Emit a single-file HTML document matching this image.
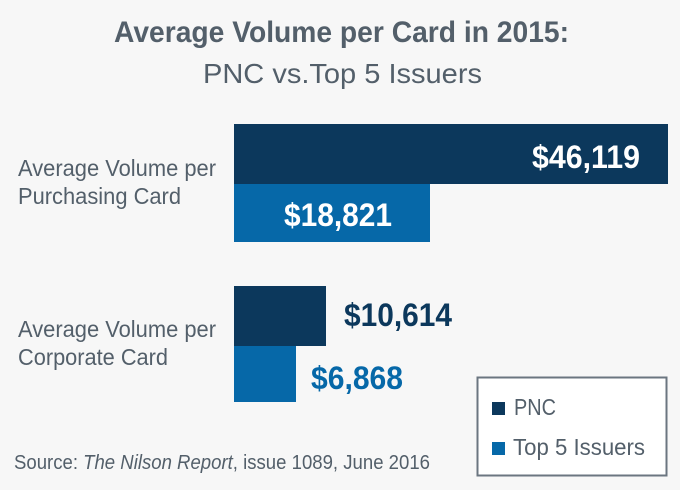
<!DOCTYPE html>
<html><head><meta charset="utf-8"><style>
html,body{margin:0;padding:0;background:#f7f7f7;}
svg{display:block;font-family:"Liberation Sans Narrow","Liberation Sans",sans-serif;}
</style></head><body>
<svg width="680" height="490" viewBox="0 0 680 490">
<rect width="680" height="490" fill="#f7f7f7"/>
<text x="114" y="42" font-size="30" font-weight="bold" fill="#535f6a" textLength="455" lengthAdjust="spacingAndGlyphs">Average Volume per Card in 2015:</text>
<text x="203" y="83" font-size="28" fill="#535f6a" textLength="279" lengthAdjust="spacingAndGlyphs">PNC vs.Top 5 Issuers</text>

<rect x="234" y="124" width="434" height="60" fill="#0c385c"/>
<rect x="234" y="184" width="196" height="58" fill="#0668a8"/>
<rect x="234" y="286" width="92" height="60" fill="#0c385c"/>
<rect x="234" y="346" width="62" height="56" fill="#0668a8"/>

<text x="532" y="168" font-size="32" font-weight="bold" fill="#fff" textLength="108" lengthAdjust="spacingAndGlyphs">$46,119</text>
<text x="284" y="226" font-size="32" font-weight="bold" fill="#fff" textLength="108" lengthAdjust="spacingAndGlyphs">$18,821</text>
<text x="344" y="326" font-size="32" font-weight="bold" fill="#0c385c" textLength="108" lengthAdjust="spacingAndGlyphs">$10,614</text>
<text x="311" y="389" font-size="32" font-weight="bold" fill="#0668a8" textLength="92" lengthAdjust="spacingAndGlyphs">$6,868</text>

<g font-size="23" fill="#535f6a">
<text x="18" y="176" textLength="198" lengthAdjust="spacingAndGlyphs">Average Volume per</text>
<text x="18" y="204" textLength="163" lengthAdjust="spacingAndGlyphs">Purchasing Card</text>
<text x="18" y="337" textLength="198" lengthAdjust="spacingAndGlyphs">Average Volume per</text>
<text x="18" y="365" textLength="150" lengthAdjust="spacingAndGlyphs">Corporate Card</text>
</g>

<rect x="477.5" y="377.5" width="189" height="98" fill="#fff" stroke="#6b7680" stroke-width="2"/>
<rect x="492" y="402" width="13" height="13" fill="#0c385c"/>
<rect x="492" y="442" width="13" height="13" fill="#0668a8"/>
<text x="514" y="415" font-size="23" fill="#535f6a" textLength="42" lengthAdjust="spacingAndGlyphs">PNC</text>
<text x="513" y="455" font-size="23" fill="#535f6a" textLength="132" lengthAdjust="spacingAndGlyphs">Top 5 Issuers</text>

<text x="14" y="469" font-size="20" fill="#535f6a" textLength="416" lengthAdjust="spacingAndGlyphs">Source: <tspan font-style="italic">The Nilson Report</tspan>, issue 1089, June 2016</text>
</svg>
</body></html>
